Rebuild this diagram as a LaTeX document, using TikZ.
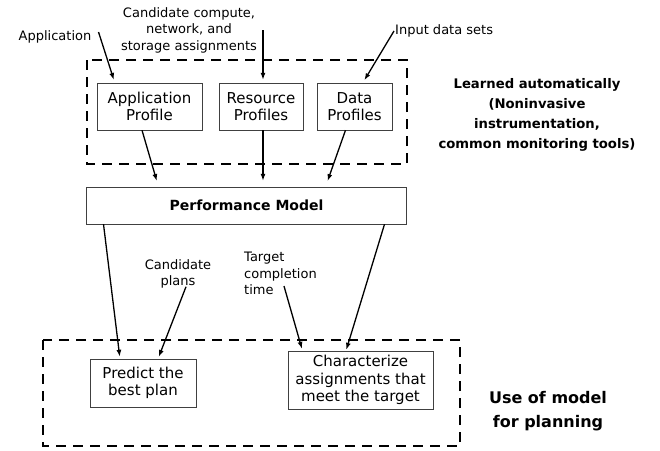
\documentclass[tikz,border=0pt]{standalone}
\usepackage{fontspec}
\setmainfont{DejaVu Sans}
\usetikzlibrary{arrows.meta}

\begin{document}
\begin{tikzpicture}[x=1pt,y=-1pt,
		profbox/.style={draw=black!75,thin,align=center,font=\fontsize{15}{17.5}\selectfont,minimum height=47pt,inner sep=1pt},
		lbl/.style={align=center,font=\fontsize{13}{16.5}\selectfont,inner sep=1pt},
		note/.style={align=center,font=\bfseries\fontsize{13.2}{20}\selectfont},
		zone/.style={draw,line width=2.2pt,dash pattern=on 10pt off 7pt},
		arr/.style={-{Latex[length=7pt,width=5pt]},line width=1.3pt}
		]
		\useasboundingbox (0,0) rectangle (660,450);
		
		\draw[zone] (87,60) rectangle (407,164);
		\draw[zone] (43,340) rectangle (460,446);
		
		\node[profbox,minimum width=105pt](AP) at (149.5,106.5){Application\\Profile};
		\node[profbox,minimum width=84pt](RP) at (261,106.5){Resource\\Profiles};
		\node[profbox,minimum width=75pt](DP) at (354.5,106.5){Data\\Profiles};
		\node[draw=black!75,thin,minimum width=320pt,minimum height=37pt,font=\bfseries\fontsize{14}{17}\selectfont](PM) at (246.5,205.5){Performance Model};
		\node[profbox,minimum width=106pt,minimum height=48pt](PB) at (143,383){Predict the\\best plan};
		\node[profbox,minimum width=145pt,minimum height=58pt](CH) at (360.5,380){Characterize\\assignments that\\meet the target};
		
		\node[lbl](appl) at (55,37){Application};
		\node[lbl](cand) at (189,30){Candidate compute,\\network, and\\storage assignments};
		\node[lbl,anchor=west](inp) at (394,31){Input data sets};
		\node[lbl](cplans) at (178,274){Candidate\\plans};
		\node[lbl,align=left,anchor=north west](target) at (243,251){Target\\completion\\time};
		\node[note](learn) at (537,114.5){Learned automatically\\(Noninvasive\\instrumentation,\\common monitoring tools)};
		\node[note,font=\bfseries\fontsize{16}{24}\selectfont](use) at (548,411){Use of model\\for planning};
		
		\draw[arr,shorten >=3pt] ([xshift=6pt,yshift=5pt]appl.east) -- ([xshift=18pt]AP.north west);
		\draw[arr,shorten >=3pt] ([xshift=2pt]RP.north |- cand.east) -- ([xshift=2pt]RP.north);
		\draw[arr,shorten >=3pt] (inp.west) -- ([xshift=46pt]DP.north west);
		\draw[arr,shorten >=6pt] ([xshift=-7.5pt]AP.south) -- ([xshift=-88pt]PM.north);
		\draw[arr,shorten >=6pt] ([xshift=2pt]RP.south) -- ([xshift=2pt]RP.south |- PM.north);
		\draw[arr,shorten >=6pt] ([xshift=-9pt]DP.south) -- ([xshift=79pt]PM.north);
		\draw[arr,shorten >=2pt] ([xshift=-143pt]PM.south) -- ([xshift=-23pt]PB.north);
		\draw[arr,shorten >=1pt] ([xshift=138pt]PM.south) -- ([xshift=-14.5pt]CH.north);
		\draw[arr,shorten >=2pt] ([xshift=8pt,yshift=3pt]cplans.south) -- ([xshift=15pt]PB.north);
		\draw[arr,shorten >=2pt] ([xshift=41pt,yshift=10pt]target.south west) -- ([xshift=-58pt]CH.north);
	\end{tikzpicture}
\end{document}
